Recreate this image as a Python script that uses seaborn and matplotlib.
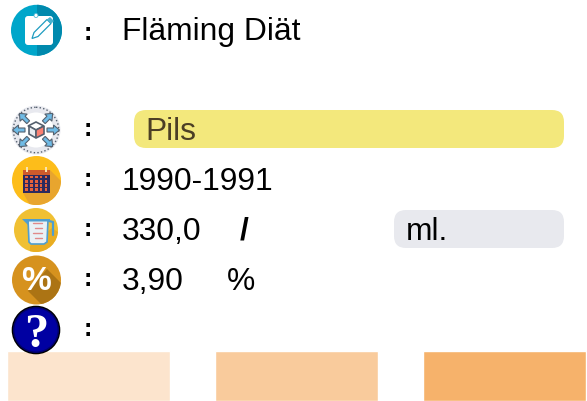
import matplotlib
matplotlib.use('Agg')
import matplotlib.pyplot as plt
import seaborn as sns
import pandas as pd
import numpy as np
from matplotlib.patches import Circle, FancyBboxPatch, Polygon, Rectangle

# values
title_text = 'Fläming Diät'
style_text = 'Pils'
years_text = '1990-1991'
volume_text = '330,0'
volume_unit = 'ml.'
abv_text = '3,90'
bar_names = ['a', 'b', 'c']
bar_values = [1, 1, 1]
bar_colors = ['#fce4cd', '#f9cb9c', '#f6b26b']

sns.set_theme(style='white')
plt.rcParams['font.family'] = ['Liberation Sans', 'DejaVu Sans']

fig = plt.figure(figsize=(5.87, 4.01), dpi=100, facecolor='white')

# the three bars along the bottom
ax_bars = fig.add_axes([0, 0, 1, 50 / 401])
df = pd.DataFrame({'name': bar_names, 'value': bar_values})
sns.barplot(data=df, x='name', y='value', hue='name', palette=bar_colors,
            width=0.786, saturation=1, legend=False, ax=ax_bars)
ax_bars.set_xlim(-0.425, 2.397)
ax_bars.set_ylim(0, 1)
ax_bars.axis('off')

# everything else is placed in pixel coordinates
ax = fig.add_axes([0, 0, 1, 1], zorder=3)
ax.set_xlim(0, 587)
ax.set_ylim(401, 0)
ax.axis('off')
ax.patch.set_alpha(0)


def disc(cx, cy, r, color, shade=None, shade_pts=None):
    c = Circle((cx, cy), r, fc=color, ec='none')
    ax.add_patch(c)
    if shade_pts is not None:
        p = Polygon(shade_pts, fc=shade, ec='none')
        ax.add_patch(p)
        p.set_clip_path(c)


def pill(x0, y0, x1, y1, color, rad=12):
    ax.add_patch(FancyBboxPatch((x0 + rad, y0 + rad), x1 - x0 - 2 * rad, y1 - y0 - 2 * rad,
                                boxstyle=f'round,pad={rad},rounding_size={rad}', fc=color, ec='none'))


def arrow(cx, cy, angle, r0, r1):
    # block arrow pointing away from the centre of the icon
    shape = np.array([(r0, -2), (r1 - 6, -2), (r1 - 6, -5), (r1, 0), (r1 - 6, 5), (r1 - 6, 2), (r0, 2)], dtype=float)
    a = np.radians(angle)
    xs = cx + shape[:, 0] * np.cos(a) - shape[:, 1] * np.sin(a)
    ys = cy + shape[:, 0] * np.sin(a) + shape[:, 1] * np.cos(a)
    ax.add_patch(Polygon(np.column_stack([xs, ys]), fc='#6fbbe6', ec='#56626f', lw=0.8))


# clipboard icon
disc(36.5, 30.3, 25.5, '#00a6ca', '#0089ad', [(36.5, 0), (65, 0), (65, 60), (36.5, 60)])
ax.add_patch(FancyBboxPatch((27, 18), 24, 25, boxstyle='round,pad=2,rounding_size=3', fc='white', ec='none'))
ax.add_patch(Circle((36, 15.5), 2, fc='white', ec='#59b9d2', lw=0.6))
ax.add_patch(Polygon([(32, 38.5), (34, 32.5), (47, 19.5), (51, 23.5), (38, 36.5)], fc='white', ec='#1e9cc0', lw=0.9))
ax.add_patch(Polygon([(47.5, 19), (50, 17), (54, 21), (51.5, 23.5)], fc='#49b4d0', ec='none'))

# dotted circle with arrows and a cube
ax.add_patch(Circle((36, 130), 21, fc='none', ec='#e8e9ef', lw=5))
ax.add_patch(Circle((36, 130), 22.7, fc='none', ec='#55606e', lw=1, ls=(0, (1, 1.6))))
for angle in [0, 45, 135, 180, 225, 315]:
    arrow(36, 130, angle, 11, 23.5)
ax.add_patch(Polygon([(36, 122), (44, 126), (36, 130), (28, 126)], fc='white', ec='#55606e', lw=1.2))
ax.add_patch(Polygon([(29, 126), (36, 130), (36, 138), (29, 134)], fc='#e9ecf0', ec='#55606e', lw=1.2))
ax.add_patch(Polygon([(44, 126), (36, 130), (36, 138), (44, 134)], fc='#fb8072', ec='#55606e', lw=1.2))

# calendar icon
disc(36.5, 180.5, 24.5, '#fdbd1a', '#e8a52e', [(23, 193), (50, 170), (70, 190), (50, 215), (30, 205)])
ax.add_patch(Rectangle((23, 170), 27, 23, fc='#2d2a5e', ec='none'))
ax.add_patch(Rectangle((23, 170), 27, 5, fc='#cf5a2c', ec='none'))
for cx in (27, 46):
    ax.add_patch(Rectangle((cx - 1, 167), 2, 5, fc='#f8e3b0', ec='none'))
for row in range(4):
    for col in range(5):
        ax.add_patch(Rectangle((25.3 + col * 4.8, 175.8 + row * 4.2), 2.6, 2.6, fc='#e8623a', ec='none'))

# measuring cup icon
disc(36, 230, 22, '#f0c033', '#e9ad22', [(30, 246), (52, 228), (70, 240), (50, 262), (30, 255)])
ax.add_patch(Polygon([(28, 220), (48, 220), (47, 242), (44, 244), (31, 244), (29, 242)], fc='#e9f1f6', ec='#4e9ed0', lw=1.2))
ax.add_patch(Polygon([(22, 219), (50, 219), (50, 221.5), (29, 221.5), (28, 225)], fc='#4e9ed0', ec='none'))
ax.plot([49, 53, 53], [221, 222, 235], color='#4e9ed0', lw=1.6)
for ty, x0 in [(223, 33), (228, 35), (233, 33), (238, 35)]:
    ax.plot([x0, 42], [ty, ty], color='#e08a8a', lw=1)

# percent icon
disc(36.5, 280, 24.5, '#d6921e', '#ac7414', [(28, 291), (47, 269), (67, 289), (50, 313)])
ax.text(36.5, 281, '%', color='white', fontsize=24, fontweight='bold', ha='center', va='center')

# question mark icon
ax.add_patch(Circle((36, 330), 24.3, fc='black', ec='none'))
ax.add_patch(Circle((36, 330), 23, fc='#00006e', ec='none'))
ax.add_patch(Circle((36, 330), 21.5, fc='#0000a2', ec='none'))
ax.text(36.5, 347, '?', color='white', fontsize=35, fontweight='bold', ha='center', va='baseline',
        family=['Liberation Serif', 'DejaVu Serif'])

# colons beside the icons
for cy in [30, 126, 176, 226, 276, 326]:
    ax.text(88, cy + 3, ':', color='black', fontsize=18, fontweight='bold', ha='center', va='center')

# text rows
pill(134, 110, 564, 148, '#f3e87c')
pill(394, 210, 564, 248, '#e8e9ee')
size = 22.9
rows = [
    (122, 40, title_text, 'black'),
    (145, 140, style_text, '#4c3f25'),
    (122, 190, years_text, 'black'),
    (122, 240, volume_text, 'black'),
    (406, 240, volume_unit, 'black'),
    (122, 290, abv_text, 'black'),
    (227, 290, '%', 'black'),
]
for x, y, label, color in rows:
    ax.text(x, y, label, color=color, fontsize=size, ha='left', va='baseline')
ax.text(244, 240, '/', color='black', fontsize=size, fontweight='bold',
        ha='center', va='baseline')

fig.savefig('out.png', dpi=100)
plt.close(fig)
